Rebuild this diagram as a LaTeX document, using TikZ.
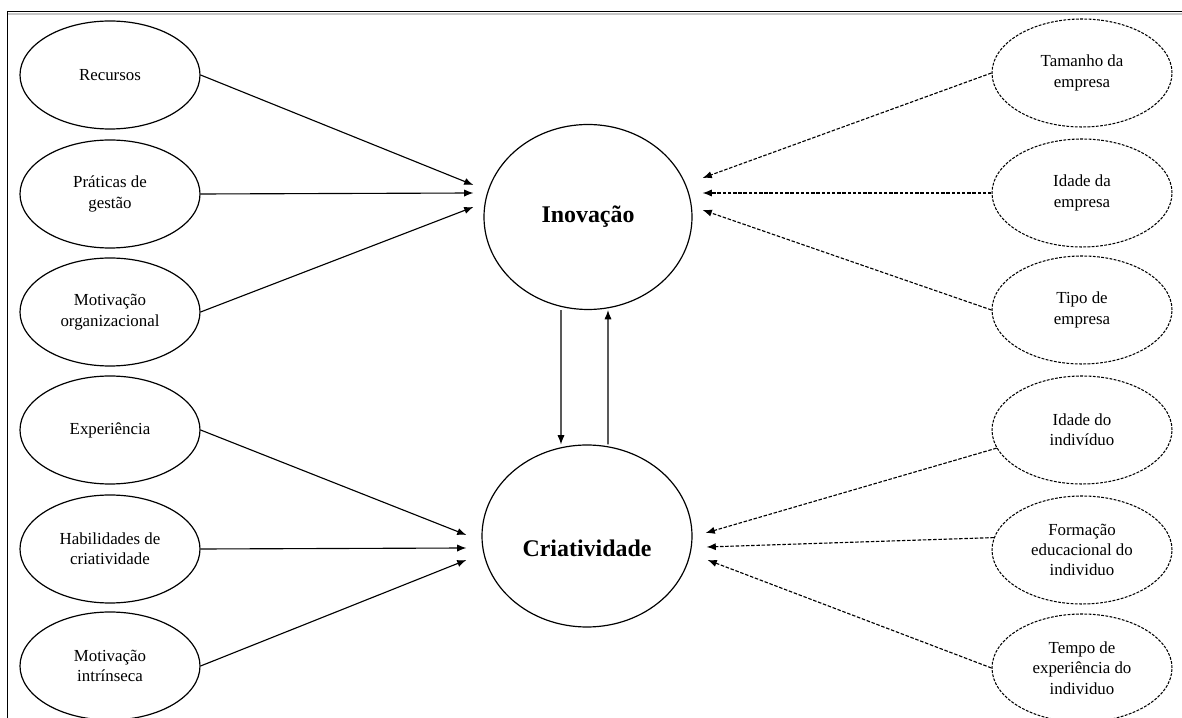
\documentclass[tikz,border=0pt]{standalone}
\usepackage{fontspec}
\setmainfont{Liberation Serif}
\usetikzlibrary{shapes,arrows.meta,positioning,calc}

\begin{document}
\begin{tikzpicture}[
    factor/.style={ellipse, draw, line width=0.85pt, minimum width=4.5cm, minimum height=2.7cm,
        inner sep=0pt, align=center, font=\fontsize{12}{14.5}\selectfont},
    control/.style={factor, line width=0.75pt, dash pattern=on 2pt off 1pt},
    corefont/.style={font=\fontsize{17}{20}\selectfont\bfseries},
    core/.style={ellipse, draw, line width=0.85pt, inner sep=0pt, corefont},
    arr/.style={-{Latex[length=2.3mm,width=1.8mm]}, line width=0.8pt},
    darr/.style={arr, dash pattern=on 2.5pt off 1.2pt}
]
    \useasboundingbox (0,0) rectangle (29.55,17.95);

    % Frame of the screenshot
    \draw[gray!45, line width=1.6pt] (0.175,17.6) -- (29.55,17.6);
    \draw[line width=0.6pt] (0.175,17.66) -- (29.55,17.66);
    \draw[line width=0.6pt] (0.175,17.66) -- (0.175,0);

    % Core constructs
    \node[core, minimum width=5.2cm, minimum height=4.625cm] (ino) at (14.7,12.525) {Inovação};
    \node[core, minimum width=5.25cm, minimum height=4.55cm,
        label={[corefont, yshift=-0.3cm]center:Criatividade}] (cri) at (14.675,4.55) {};

    % Organizational and individual factors
    \node[factor] (rec) at (2.75,16.075) {Recursos};
    \node[factor] (pra) at (2.75,13.1) {Práticas de\\gestão};
    \node[factor] (mot) at (2.75,10.15) {Motivação\\organizacional};
    \node[factor] (exp) at (2.75,7.2) {Experiência};
    \node[factor] (hab) at (2.75,4.225) {Habilidades de\\criatividade};
    \node[factor] (mti) at (2.75,1.3) {Motivação\\intrínseca};

    % Control variables
    \node[control] (tam) at (27.05,16.125) {Tamanho da\\empresa};
    \node[control] (ide) at (27.05,13.125) {Idade da\\empresa};
    \node[control] (tip) at (27.05,10.2) {Tipo de\\empresa};
    \node[control] (idi) at (27.05,7.2) {Idade do\\indivíduo};
    \node[control] (edu) at (27.05,4.2) {Formação\\educacional do\\individuo};
    \node[control] (tem) at (27.05,1.25) {Tempo de\\experiência do\\individuo};

    % Effects on innovation and creativity
    \draw[arr] (rec.east) -- ([shift={(-0.25,0.8)}]ino.west);
    \draw[arr] (pra.east) -- ([shift={(-0.25,0.6)}]ino.west);
    \draw[arr] (mot.east) -- ([shift={(-0.25,0.25)}]ino.west);
    \draw[arr] (exp.east) -- ([shift={(-0.375,0.025)}]cri.west);
    \draw[arr] (hab.east) -- ([shift={(-0.375,-0.3)}]cri.west);
    \draw[arr] (mti.east) -- ([shift={(-0.375,-0.6)}]cri.west);

    \draw[darr] (tam.west) -- ([shift={(0.25,0.975)}]ino.east);
    \draw[darr] (ide.west) -- ([shift={(0.25,0.6)}]ino.east);
    \draw[darr] (tip.west) -- ([shift={(0.25,0.175)}]ino.east);
    \draw[darr] (idi.192) -- ([shift={(0.325,0.075)}]cri.east);
    \draw[darr] (edu.172) -- ([shift={(0.35,-0.275)}]cri.east);
    \draw[darr] (tem.west) -- ([shift={(0.375,-0.6)}]cri.east);

    % Reciprocal link
    \draw[arr] ([xshift=-0.675cm]ino.south) -- ([xshift=-0.65cm]cri.north);
    \draw[arr] ([xshift=0.525cm]cri.north) -- ([xshift=0.5cm]ino.south);
\end{tikzpicture}
\end{document}
